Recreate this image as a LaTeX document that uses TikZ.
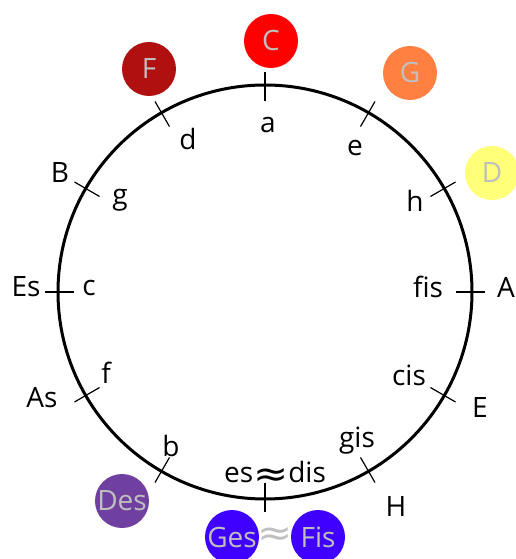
\documentclass[tikz,border=0pt]{standalone}
\usepackage{fontspec}
\setmainfont{Open Sans}
\newfontfamily\symfont{DejaVu Sans}
\colorlet{keytext}{black!25}
\definecolor{colC}{RGB}{255,0,0}
\definecolor{colF}{RGB}{176,16,16}
\definecolor{colG}{RGB}{255,128,64}
\definecolor{colD}{RGB}{255,255,120}
\definecolor{colDes}{RGB}{112,64,160}
\definecolor{colFis}{RGB}{64,0,255}
\tikzstyle{key}=[circle,inner sep=0,minimum size=54,text=keytext]
\tikzstyle{tick}=[line width=1.2]
\newcommand{\wideapprox}{\raisebox{-4pt}{\scalebox{1.5}[1.3]{\symfont ≈}}}

\begin{document}
\begin{tikzpicture}[x=1pt,y=1pt,font=\fontsize{28}{32}\selectfont]
  \def\R{207}  % circle radius
  \def\ri{16}  % tick length inside
  \def\ro{13}  % tick length outside
  \useasboundingbox (-265,-267) rectangle (250,292);

  % CIRCLE + TICKS
  \draw[line width=3] (0,0) circle (\R);
  \foreach \a in {0,30,...,330}{
    \draw[tick] (\a:\R-\ri) -- (\a:\R+\ro);
  }

  % minor keys (inside)
  \node (a)   at (3,167)    {a};
  \node (e)   at (90,144)   {e};
  \node (h)   at (150,91)   {h};
  \node (fis) at (163,5)    {fis};
  \node (cis) at (144,-83)  {cis};
  \node (gis) at (92,-149)  {gis};
  \node (esdis) at (10,-182) {es\wideapprox dis};
  \node (b)   at (-94,-154) {b};
  \node (f)   at (-159,-81) {f};
  \node (c)   at (-176,4)   {c};
  \node (g)   at (-145,92)  {g};
  \node (d)   at (-77,153)  {d};

  % major keys (outside)
  \node (A)  at (241,5)     {A};
  \node (E)  at (215,-116)  {E};
  \node (H)  at (131,-215)  {H};
  \node (As) at (-223,-106) {As};
  \node (Es) at (-239,5)    {Es};
  \node (B)  at (-205,119)  {B};

  % coloured keys
  \node[key,fill=colC]   (C)   at (6,251)     {C};
  \node[key,fill=colG]   (G)   at (145,219)   {G};
  \node[key,fill=colD]   (D)   at (227,119)   {D};
  \node[key,fill=colF]   (F)   at (-116,223)  {F};
  \node[key,fill=colDes] (Des) at (-143,-209) {Des};
  \node[key,fill=colFis] (Ges) at (-33,-245)  {Ges};
  \node[key,fill=colFis] (Fis) at (53,-245)   {Fis};
  \node[text=keytext,inner sep=0] (eq) at (10,-245) {\scalebox{1.5}[1.3]{\symfont ≈}};
\end{tikzpicture}
\end{document}
